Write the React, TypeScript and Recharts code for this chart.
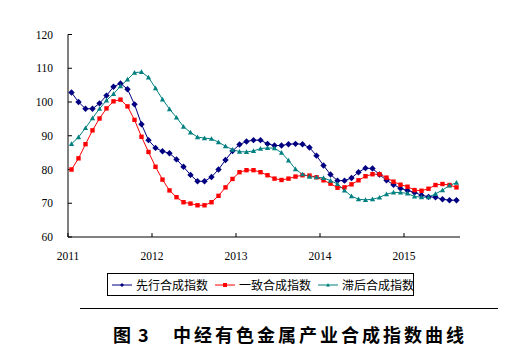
import { LineChart, Line, XAxis, YAxis } from 'recharts';

// monthly data, 2011-01 .. 2015-08
const leading = [
  102.8, 100.0, 98.0, 98.0, 99.6, 101.9, 104.5, 105.5, 103.8, 99.3,
  93.4, 88.7, 86.4, 85.4, 84.8, 83.0, 80.8, 78.4, 76.5, 76.5,
  77.8, 80.0, 82.8, 85.5, 87.4, 88.3, 88.7, 88.7, 87.6, 87.1,
  87.1, 87.5, 87.6, 87.5, 86.5, 84.1, 81.2, 78.5, 76.7, 76.7,
  77.5, 79.2, 80.4, 80.3, 78.5, 76.8, 75.5, 74.4, 73.8, 73.2,
  72.4, 71.9, 71.8, 71.2, 70.9, 70.9,
];
const coincident = [
  80.0, 83.3, 87.5, 91.6, 95.1, 98.1, 100.2, 100.7, 98.7, 94.7,
  89.7, 85.2, 80.8, 77.0, 73.8, 71.8, 70.3, 69.9, 69.4, 69.4,
  70.3, 72.2, 74.7, 77.2, 79.2, 79.8, 79.8, 79.2, 78.3, 77.3,
  76.9, 77.3, 77.9, 78.3, 78.2, 77.7, 76.8, 75.8, 74.6, 74.7,
  75.6, 76.8, 78.0, 78.6, 78.6, 77.6, 76.4, 75.5, 74.9, 73.9,
  73.7, 74.3, 75.4, 75.7, 75.4, 74.7,
];
const lagging = [
  87.6, 89.6, 92.3, 95.2, 98.0, 100.5, 102.4, 104.7, 106.7, 108.7,
  108.9, 107.3, 104.1, 100.8, 97.9, 95.4, 92.7, 91.0, 89.6, 89.3,
  89.1, 88.1, 86.9, 85.9, 85.3, 85.2, 85.5, 86.2, 86.4, 86.3,
  85.0, 82.7, 80.1, 78.6, 77.9, 77.7, 77.5, 76.7, 75.7, 73.8,
  72.1, 71.2, 71.0, 71.2, 71.7, 72.7, 73.2, 73.2, 72.9, 72.0,
  71.8, 71.8, 72.8, 73.9, 75.3, 76.1,
];
const yearLabels = ['2011', '2012', '2013', '2014', '2015'];
const yTicks = [60, 70, 80, 90, 100, 110, 120];
const seriesNames = ['先行合成指数', '一致合成指数', '滞后合成指数'];

const NAVY = '#000080';
const RED = '#ff0000';
const TEAL = '#008080';

// month index on a numeric axis, centred inside each month
const data = leading.map((v, i) => ({
  t: i + 0.5,
  leading: v,
  coincident: coincident[i],
  lagging: lagging[i],
}));

const diamond = (cx: number, cy: number, r: number) =>
  `M${cx},${cy - r}L${cx + r},${cy}L${cx},${cy + r}L${cx - r},${cy}Z`;
const square = (cx: number, cy: number, r: number) =>
  `M${cx - r},${cy - r}h${2 * r}v${2 * r}h${-2 * r}Z`;
const triangle = (cx: number, cy: number, r: number) =>
  `M${cx},${cy - r}L${cx + r},${cy + r * 0.8}L${cx - r},${cy + r * 0.8}Z`;

const makeDot = (shape: typeof diamond, color: string, r: number) => (props: any) => {
  const { cx, cy, index } = props;
  if (cx == null || cy == null) return <g key={index} />;
  return <path key={index} d={shape(cx, cy, r)} fill={color} stroke="none" />;
};

const tickStyle = { fill: '#000', fontSize: 11.5, fontFamily: '"Liberation Serif", serif' };

function LegendItem({ label, color, shape, left }: { label: string; color: string; shape: typeof diamond; left: number }) {
  return (
    <div style={{ position: 'absolute', left, top: 0, height: 21, display: 'flex', alignItems: 'center', whiteSpace: 'nowrap' }}>
      <svg width={20} height={10} style={{ display: 'block', flexShrink: 0 }}>
        <line x1={0} y1={5} x2={20} y2={5} stroke={color} strokeWidth={1} />
        <path d={shape(10, 5, 2)} fill={color} />
      </svg>
      <span style={{ marginLeft: 4, fontSize: 12, lineHeight: '12px', color: '#000' }}>{label}</span>
    </div>
  );
}

export default function App() {
  return (
    <div style={{ position: 'relative', width: 490, height: 348, background: '#fff' }}>
      <LineChart width={490} height={260} data={data} margin={{ top: 26.5, right: 38, left: 10, bottom: 1 }}>
        <XAxis
          dataKey="t"
          type="number"
          domain={[0, 56]}
          ticks={[0, 12, 24, 36, 48]}
          tickFormatter={(v: number) => yearLabels[v / 12]}
          stroke="#000"
          tickSize={-4}
          tickMargin={19}
          tick={tickStyle}
          height={30}
        />
        <YAxis
          domain={[60, 120]}
          ticks={yTicks}
          stroke="#000"
          tickSize={-4}
          tickMargin={19}
          tick={tickStyle}
          width={50}
        />
        <Line dataKey="leading" stroke={NAVY} strokeWidth={1} dot={makeDot(diamond, NAVY, 3.2)} activeDot={false} isAnimationActive={false} />
        <Line dataKey="coincident" stroke={RED} strokeWidth={1} dot={makeDot(square, RED, 2.2)} activeDot={false} isAnimationActive={false} />
        <Line dataKey="lagging" stroke={TEAL} strokeWidth={1} dot={makeDot(triangle, TEAL, 2.6)} activeDot={false} isAnimationActive={false} />
      </LineChart>

      <div
        style={{
          position: 'absolute',
          left: 99,
          top: 265,
          width: 307,
          height: 23,
          border: '1px solid #000',
          boxSizing: 'border-box',
          fontFamily: '"Noto Sans CJK SC", sans-serif',
        }}
      >
        <LegendItem label={seriesNames[0]} color={NAVY} shape={diamond} left={4} />
        <LegendItem label={seriesNames[1]} color={RED} shape={square} left={107} />
        <LegendItem label={seriesNames[2]} color={TEAL} shape={triangle} left={210} />
      </div>

      <div style={{ position: 'absolute', left: 72, top: 300, width: 418, height: 1, background: '#000' }} />

      <div
        style={{
          position: 'absolute',
          left: 0,
          top: 316,
          width: 490,
          height: 22,
          fontFamily: '"Noto Sans CJK SC", sans-serif',
          fontWeight: 'bold',
          fontSize: 18,
          lineHeight: '20px',
          color: '#000',
        }}
      >
        <span style={{ position: 'absolute', left: 105 }}>图</span>
        <span style={{ position: 'absolute', left: 130 }}>3</span>
        <span style={{ position: 'absolute', left: 165, letterSpacing: 3, whiteSpace: 'nowrap' }}>中经有色金属产业合成指数曲线</span>
      </div>
    </div>
  );
}
